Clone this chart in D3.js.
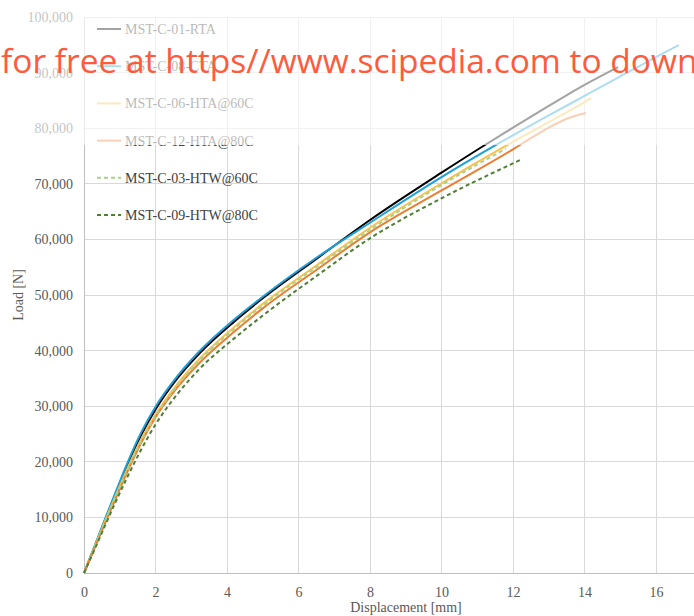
<!DOCTYPE html>
<html>
<head>
<meta charset="utf-8">
<script src="https://cdn.jsdelivr.net/npm/d3@7"></script>
<style>
  html, body { margin: 0; padding: 0; background: #fff; overflow: hidden; }
  svg { display: block; }
</style>
</head>
<body>
<div id="chart"></div>
<script>
// ---- Data ----
const seriesNames = ["MST-C-01-RTA", "MST-C-08-CTA", "MST-C-06-HTA@60C", "MST-C-12-HTA@80C", "MST-C-03-HTW@60C", "MST-C-09-HTW@80C"];

const dispRTA01 = [0, 0.3, 0.6, 0.9, 1.2, 1.6, 2.0, 2.6, 3.2, 4.2, 5.0, 6.5, 8, 10, 11.17, 12, 13, 14, 14.94];
const loadRTA01 = [0, 4800, 9700, 14500, 19200, 24800, 29400, 34900, 39300, 45200, 49400, 56500, 63490, 72000, 76800, 80100, 84000, 87800, 91000];

const dispCTA08 = [0, 0.3, 0.6, 0.9, 1.2, 1.6, 2.0, 2.6, 3.2, 4.2, 5.0, 6.5, 8, 10, 11.5, 13, 14, 15, 16, 16.64];
const loadCTA08 = [0, 4900, 9900, 14800, 19600, 25300, 29900, 35300, 39700, 45600, 49700, 56700, 63000, 71200, 76900, 82300, 85800, 89300, 92800, 94960];

const dispHTA06 = [0, 0.3, 0.6, 0.9, 1.2, 1.6, 2.0, 2.6, 3.2, 4.2, 5.0, 6.5, 8, 10, 11.82, 13, 14, 14.18];
const loadHTA06 = [0, 4700, 9500, 14100, 18600, 24000, 28500, 33900, 38300, 44200, 48400, 55300, 62100, 70090, 76900, 81100, 84700, 85400];

const dispHTA12 = [0, 0.3, 0.6, 0.9, 1.2, 1.6, 2.0, 2.6, 3.2, 4.2, 5.0, 6.5, 8, 10, 12, 12.5, 13, 13.5, 14.04];
const loadHTA12 = [0, 4500, 9100, 13600, 18000, 23400, 28000, 33300, 37600, 43400, 47600, 54500, 61270, 68800, 76200, 78200, 80100, 81700, 82750];

const dispHTW03 = [0, 0.3, 0.6, 0.9, 1.2, 1.6, 2.0, 2.6, 3.2, 4.2, 5.0, 6.5, 8, 10, 11.8];
const loadHTW03 = [0, 4700, 9400, 14000, 18400, 23700, 28200, 33600, 38000, 43900, 48100, 55000, 61700, 69780, 76300];

const dispHTW09 = [0, 0.3, 0.6, 0.9, 1.2, 1.6, 2.0, 2.6, 3.2, 4.2, 5.0, 6.5, 8, 10, 12.24];
const loadHTW09 = [0, 4300, 8700, 13000, 17100, 22200, 26700, 32100, 36500, 42200, 46300, 53400, 60200, 67390, 74400];

const xTicks = [0, 2, 4, 6, 8, 10, 12, 14, 16];
const yTicks = [0, 10000, 20000, 30000, 40000, 50000, 60000, 70000, 80000, 90000, 100000];
const xMax = 18;

const seriesDisp = [dispRTA01, dispCTA08, dispHTA06, dispHTA12, dispHTW03, dispHTW09];
const seriesLoad = [loadRTA01, loadCTA08, loadHTA06, loadHTA12, loadHTW03, loadHTW09];
const seriesColor = ["#000000", "#1ba1d8", "#f8c24c", "#ed7d31", "#a9d18e", "#4f7f32"];
const seriesDash = [null, null, null, null, "4,3", "4,3"];

// ---- Layout ----
const W = 694, H = 616;
const svg = d3.select("#chart").append("svg").attr("width", W).attr("height", H);

const x = d3.scaleLinear().domain([0, xMax]).range([84, 727.5]);
const y = d3.scaleLinear().domain([0, 100000]).range([573, 17]);

const serif = "'Liberation Serif', 'Times New Roman', serif";
const textCol = "#595959";

// Gridlines
svg.append("g").selectAll("line").data(yTicks.filter(d => d > 0)).join("line")
  .attr("x1", x(0)).attr("x2", x(xMax)).attr("y1", d => y(d)).attr("y2", d => y(d))
  .attr("stroke", "#d9d9d9").attr("stroke-width", 1).attr("shape-rendering", "crispEdges");
svg.append("g").selectAll("line").data(xTicks.filter(d => d > 0)).join("line")
  .attr("x1", d => x(d)).attr("x2", d => x(d)).attr("y1", y(0)).attr("y2", y(100000))
  .attr("stroke", "#d9d9d9").attr("stroke-width", 1).attr("shape-rendering", "crispEdges");

// Axes
const xAxis = d3.axisBottom(x).tickValues(xTicks).tickSize(0).tickPadding(14).tickFormat(d3.format("d"));
const yAxis = d3.axisLeft(y).tickValues(yTicks).tickSize(0).tickPadding(11).tickFormat(d3.format(","));

const gx = svg.append("g").attr("transform", `translate(0,${y(0)})`).call(xAxis);
const gy = svg.append("g").attr("transform", `translate(${x(0)},0)`).call(yAxis);
[gx, gy].forEach(g => {
  g.attr("font-family", null).attr("font-size", null);
  g.select(".domain").attr("stroke", "#bfbfbf").attr("stroke-width", 1).attr("shape-rendering", "crispEdges");
  g.selectAll("text").style("font-family", serif).style("font-size", "14px").attr("fill", textCol);
});

// Axis titles
svg.append("text").attr("x", 406).attr("y", 612).attr("text-anchor", "middle")
  .style("font-family", serif).style("font-size", "14px").attr("fill", textCol).text("Displacement [mm]");
svg.append("text").attr("transform", "translate(23,295) rotate(-90)").attr("text-anchor", "middle")
  .style("font-family", serif).style("font-size", "14px").attr("fill", textCol).text("Load [N]");

// Curves
const line = d3.line().x(d => x(d[0])).y(d => y(d[1])).curve(d3.curveMonotoneX);
seriesNames.forEach((name, i) => {
  const pts = seriesDisp[i].map((d, j) => [d, seriesLoad[i][j]]);
  svg.append("path").datum(pts).attr("d", line)
    .attr("fill", "none").attr("stroke", seriesColor[i]).attr("stroke-width", 2)
    .attr("stroke-dasharray", seriesDash[i]);
});

// Legend
const legendRowY = d3.scaleLinear().domain([0, 5]).range([29, 215]);
const lg = svg.append("g");
seriesNames.forEach((name, i) => {
  const ry = legendRowY(i);
  lg.append("line").attr("x1", 97).attr("x2", 121).attr("y1", ry).attr("y2", ry)
    .attr("stroke", seriesColor[i]).attr("stroke-width", 2).attr("stroke-dasharray", seriesDash[i]);
  lg.append("text").attr("x", 125).attr("y", ry + 5)
    .style("font-family", serif).style("font-size", "14px").attr("fill", "#404040").text(name);
});

// Faded band across the top of the picture
svg.append("rect").attr("x", 0).attr("y", 0).attr("width", W).attr("height", 145)
  .attr("fill", "#ffffff").attr("opacity", 0.64);

// Watermark text
svg.append("text").attr("x", 1).attr("y", 73)
  .style("font-family", "'Open Sans', 'Noto Sans', sans-serif").style("font-size", "33.5px")
  .attr("fill", "#ff5a3c").text("for free at https//www.scipedia.com to download");
</script>
</body>
</html>
